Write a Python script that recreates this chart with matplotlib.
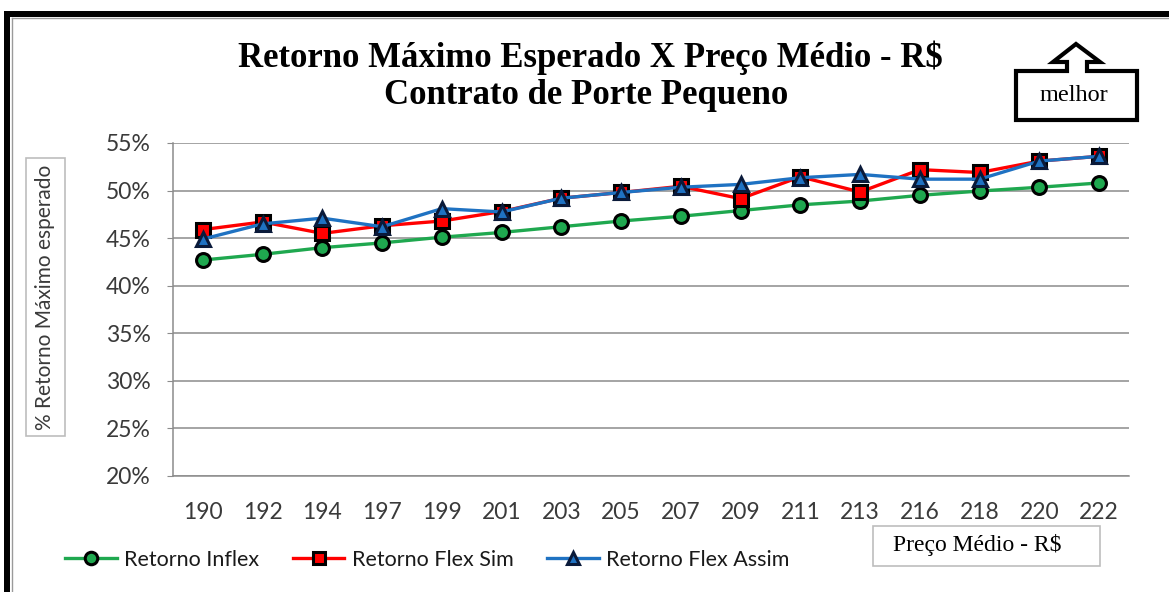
import numpy as np
import matplotlib.pyplot as plt
from matplotlib.patches import Rectangle, Polygon
from matplotlib.lines import Line2D

# data
precos = ['190', '192', '194', '197', '199', '201', '203', '205',
          '207', '209', '211', '213', '216', '218', '220', '222']
ret_inflex = [42.7, 43.3, 44.0, 44.5, 45.1, 45.6, 46.2, 46.8,
              47.3, 47.9, 48.5, 48.9, 49.5, 49.95, 50.35, 50.8]
ret_flex_sim = [45.9, 46.7, 45.5, 46.3, 46.8, 47.8, 49.2, 49.8,
                50.45, 49.15, 51.45, 49.85, 52.2, 51.9, 53.1, 53.6]
ret_flex_assim = [44.9, 46.5, 47.1, 46.2, 48.1, 47.75, 49.2, 49.8,
                  50.35, 50.65, 51.35, 51.7, 51.2, 51.2, 53.1, 53.6]
yticks = [20, 25, 30, 35, 40, 45, 50, 55]

W, H = 1169, 592
fig = plt.figure(figsize=(W / 100, H / 100), dpi=100)

def fx(px):
    return px / W

def fy(py):
    return 1 - py / H

sans = 'Lato'
serif = 'Liberation Serif'
txt = '#3a3a3a'

ax = fig.add_axes([fx(173), fy(476), fx(1129) - fx(173), fy(143) - fy(476)])
x = np.arange(len(precos))

ax.plot(x, ret_inflex, color='#1fa84f', lw=2.4, marker='o', ms=10,
        mfc='#1fa84f', mec='black', mew=2.2, label='Retorno Inflex', zorder=3)
ax.plot(x, ret_flex_sim, color='#ff0000', lw=2.4, marker='s', ms=10,
        mfc='#ff0000', mec='black', mew=2.2, label='Retorno Flex Sim', zorder=4)
ax.plot(x, ret_flex_assim, color='#1f72c2', lw=2.4, marker='^', ms=10,
        mfc='#1f72c2', mec='#0a1a3a', mew=2.2, label='Retorno Flex Assim', zorder=5)

ax.set_xlim(-0.5, len(precos) - 0.5)
ax.set_ylim(20, 55)
ax.set_yticks(yticks)
ax.set_yticklabels([f'{v}%' for v in yticks])
ax.set_xticks(x)
ax.set_xticklabels(precos)
ax.grid(axis='y', color='#8c8c8c', lw=1.1)
ax.set_axisbelow(True)
for s in ['top', 'right']:
    ax.spines[s].set_visible(False)
for s in ['left', 'bottom']:
    ax.spines[s].set_color('#8c8c8c')
    ax.spines[s].set_linewidth(1.1)
ax.tick_params(axis='y', length=4, color='#8c8c8c', pad=12,
               labelsize=16.5, labelcolor=txt)
ax.tick_params(axis='x', length=0, pad=19, labelsize=16.5, labelcolor=txt)
for lab in ax.get_xticklabels() + ax.get_yticklabels():
    lab.set_family(sans)

# title
fig.text(fx(590), fy(58), 'Retorno Máximo Esperado X Preço Médio - R$',
         ha='center', va='center', family=serif, fontweight='bold', fontsize=25)
fig.text(fx(586), fy(95), 'Contrato de Porte Pequeno',
         ha='center', va='center', family=serif, fontweight='bold', fontsize=25)

# y label in a box
fig.add_artist(Rectangle((fx(26), fy(436)), fx(65) - fx(26), fy(158) - fy(436),
                         transform=fig.transFigure, fill=False,
                         ec='#bdbdbd', lw=1.2))
fig.text(fx(45.5), fy(297), '% Retorno Máximo esperado', rotation=90,
         ha='center', va='center', family=sans, fontsize=15, color=txt)

# x label in a box
fig.add_artist(Rectangle((fx(873), fy(566)), fx(1100) - fx(873), fy(526) - fy(566),
                         transform=fig.transFigure, fill=False,
                         ec='#bdbdbd', lw=1.2))
fig.text(fx(977), fy(545), 'Preço Médio - R$', ha='center', va='center',
         family=serif, fontsize=17)

# "melhor" arrow callout
pts = [(1016, 71), (1067, 71), (1067, 62), (1053, 62), (1076, 44), (1100, 62),
       (1087, 62), (1087, 71), (1137, 71), (1137, 120), (1016, 120)]
fig.add_artist(Polygon([(fx(a), fy(b)) for a, b in pts], closed=True,
                       transform=fig.transFigure, fill=False, ec='black',
                       lw=3, joinstyle='miter'))
fig.text(fx(1074), fy(95), 'melhor', ha='center', va='center',
         family=serif, fontsize=17.5)

# legend
fig.legend(loc='center left', bbox_to_anchor=(fx(65), fy(560)), ncol=3,
           frameon=False, borderpad=0, borderaxespad=0, handlelength=2.4,
           handletextpad=0.35, columnspacing=1.55, markerscale=0.9,
           prop={'family': sans, 'size': 15.5}, labelcolor='#1a1a1a')

# outer frame: thick black on left and top, thin grey inside
fig.add_artist(Rectangle((fx(4), 0), fx(6), fy(11), transform=fig.transFigure,
                         color='black', lw=0))
fig.add_artist(Rectangle((fx(4), fy(17)), 1, fy(11) - fy(17),
                         transform=fig.transFigure, color='black', lw=0))
fig.add_artist(Line2D([fx(12), fx(12)], [0, fy(18)], transform=fig.transFigure,
                      color='#9a9a9a', lw=1))
fig.add_artist(Line2D([fx(12), 1], [fy(18), fy(18)], transform=fig.transFigure,
                      color='#9a9a9a', lw=1))

fig.savefig('out.png', dpi=100)
